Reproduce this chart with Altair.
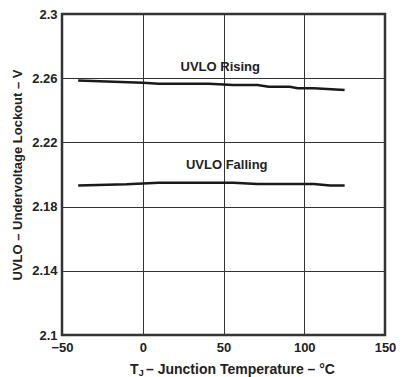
import altair as alt
import pandas as pd

rising_t = [-40, 0, 10, 41, 50, 56, 71, 78, 91, 96, 106, 125]
rising_v = [2.2585, 2.2571, 2.2565, 2.2565, 2.2561, 2.2557, 2.2557, 2.2547, 2.2547, 2.2538, 2.2538, 2.2526]
falling_t = [-40, -10, 10, 56, 71, 106, 116, 125]
falling_v = [2.1931, 2.1939, 2.1949, 2.1949, 2.1941, 2.1941, 2.1931, 2.1931]

x_ticks = [-50, 0, 50, 100, 150]
y_ticks = [2.1, 2.14, 2.18, 2.22, 2.26, 2.3]

labels = ["UVLO Rising", "UVLO Falling"]
label_t = [48, 52]
label_v = [2.2672, 2.2057]

df = pd.DataFrame(
    {"t": rising_t + falling_t,
     "v": rising_v + falling_v,
     "series": ["Rising"] * len(rising_t) + ["Falling"] * len(falling_t)}
)
lab = pd.DataFrame({"t": label_t, "v": label_v, "text": labels})

FONT = "Liberation Sans"
W, H = 323, 321

x = alt.X("t:Q", scale=alt.Scale(domain=[-50, 150], nice=False),
          axis=alt.Axis(values=x_ticks, title=None, grid=True, gridColor="#333333",
                        gridWidth=1, ticks=False, domain=False, labelFont=FONT,
                        labelFontWeight="bold", labelFontSize=13, labelColor="#222222",
                        labelPadding=6, labelFlush=False))
y = alt.Y("v:Q", scale=alt.Scale(domain=[2.1, 2.3], nice=False, zero=False),
          axis=alt.Axis(values=y_ticks, title="UVLO – Undervoltage Lockout – V",
                        titleFont=FONT, titleFontSize=13, titleFontWeight="bold",
                        titleColor="#222222", titlePadding=7,
                        grid=True, gridColor="#333333", gridWidth=1, ticks=False,
                        domain=False, labelFont=FONT, labelFontWeight="bold",
                        labelFontSize=13, labelColor="#222222", labelPadding=5,
                        labelFlush=False, format="~g"))

lines = alt.Chart(df).mark_line(color="#1a1a1a", strokeWidth=2.5).encode(
    x=x, y=y, detail="series:N")

texts = alt.Chart(lab).mark_text(font=FONT, fontSize=13, fontWeight="bold",
                                 color="#222222").encode(
    x="t:Q", y="v:Q", text="text:N")

tpart = pd.DataFrame({"text": ["T"]})
jpart = pd.DataFrame({"text": ["J"]})
rest = pd.DataFrame({"text": ["– Junction Temperature – °C"]})

t1 = alt.Chart(tpart).mark_text(font=FONT, fontSize=14, fontWeight="bold",
                                color="#222222", align="left", baseline="alphabetic").encode(
    x=alt.value(68), y=alt.value(360), text="text:N")
t2 = alt.Chart(jpart).mark_text(font=FONT, fontSize=9.5, fontWeight="bold",
                                color="#222222", align="left", baseline="alphabetic").encode(
    x=alt.value(76.5), y=alt.value(362), text="text:N")
t3 = alt.Chart(rest).mark_text(font=FONT, fontSize=14, fontWeight="bold",
                               color="#222222", align="left", baseline="alphabetic").encode(
    x=alt.value(84), y=alt.value(360), text="text:N")

chart = alt.layer(lines, texts, t1, t2, t3).properties(
    width=W, height=H,
    autosize=alt.AutoSizeParams(type="none"),
    padding={"left": 54, "top": 6, "right": 11, "bottom": 42},
    background="white",
).configure_view(stroke="#333333", strokeWidth=2.5)

chart.save("out.html", embed_options={"renderer": "svg", "actions": False})
